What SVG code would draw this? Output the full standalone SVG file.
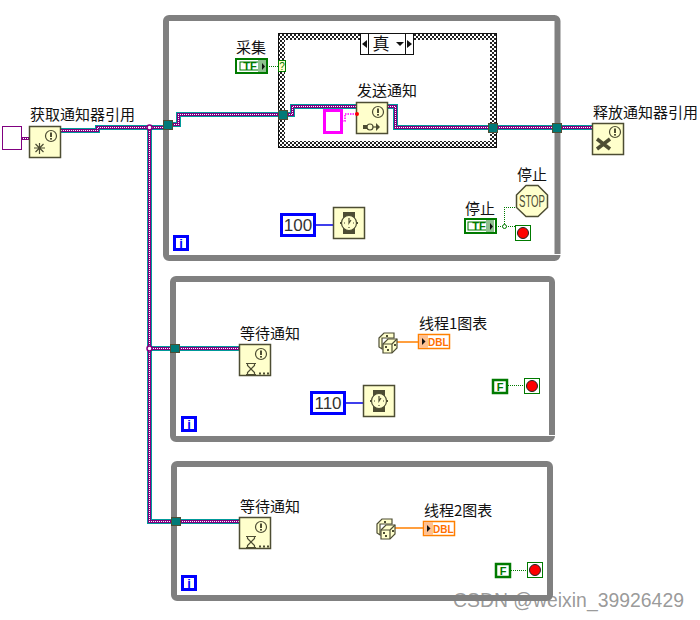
<svg xmlns="http://www.w3.org/2000/svg" width="700" height="620" viewBox="0 0 700 620">
<style>
text{font-family:"Noto Sans CJK SC","Liberation Sans",sans-serif;fill:#111}
.lb{font-size:15px}
.num{font-family:"Liberation Sans",sans-serif;font-size:17px;fill:#333}
.loop{fill:none;stroke:#808080;stroke-width:6}
.notch{fill:none;stroke:#fff;stroke-width:1}
.tun{fill:#007a78;stroke:#4d4d33;stroke-width:1}
.n{fill:#ffffcc;stroke:#4d4d33;stroke-width:1.5}
.ic{fill:none;stroke:#4d4d33;stroke-width:1.2}
.icf{fill:#4d4d33}
.w1{fill:none;stroke:#009a9a;stroke-width:5;shape-rendering:crispEdges}
.w2{fill:none;stroke:#800080;stroke-width:3;shape-rendering:crispEdges}
.w3{fill:none;stroke:#fff;stroke-width:1;stroke-dasharray:1 1;shape-rendering:crispEdges}
.wg{fill:none;stroke:#007a00;stroke-width:1;stroke-dasharray:1 1;shape-rendering:crispEdges}
.wb{fill:none;stroke:#0000e6;stroke-width:1.5}
.wo{fill:none;stroke:#ff8000;stroke-width:1.3}
.blue{fill:#fff;stroke:#0000ff;stroke-width:3}
.gb{fill:#fff;stroke:#007a00;stroke-width:2.5}
.o{fill:#fff;stroke:#ff8000;stroke-width:1.5}
.i{font-family:"Liberation Sans",sans-serif;font-size:13px;font-weight:bold;fill:#0000ff}
.tf{font-family:"Liberation Sans",sans-serif;font-size:11px;font-weight:bold;fill:#007a00}
.dbl{font-family:"Liberation Sans",sans-serif;font-size:10px;font-weight:bold;fill:#ff7000}
</style>
<defs>
<pattern id="chk" width="4" height="4" patternUnits="userSpaceOnUse">
<rect width="4" height="4" fill="#fff"/><rect width="2" height="2" fill="#222"/><rect x="2" y="2" width="2" height="2" fill="#222"/>
</pattern>
<g id="warn"><circle cx="0" cy="0" r="5.5" class="ic"/><rect x="-1" y="-3.500" width="2" height="4.500" class="icf"/><rect x="-1" y="2" width="2" height="1.600" class="icf"/></g>
<g id="stopT"><rect x="0.500" y="0.500" width="15" height="15" fill="#fff" stroke="#007a00"/><circle cx="8" cy="8" r="5.500" fill="#ff0000" stroke="#222" stroke-width="1"/></g>
<g id="watch"><rect x="-6" y="-11" width="12" height="22" class="icf"/><circle cx="0" cy="0" r="7.500" fill="#ffffcc" stroke="#4d4d33" stroke-width="1.200"/><path d="M0-5V0L2-3M-5 0h1M4 0h1M0 4v1" class="ic" stroke-width="1"/><rect x="7" y="-1" width="2" height="2" class="icf"/><rect x="-9" y="-1" width="2" height="2" class="icf"/></g>
<g id="hour"><path d="M-5 0h10M-5 11h10M-3.500 0v2L3.500 9v2M3.500 0v2L-3.500 9v2" class="ic"/><rect x="8" y="9" width="2" height="2" class="icf"/><rect x="12" y="9" width="2" height="2" class="icf"/><rect x="16" y="9" width="2" height="2" class="icf"/></g>
<g id="dice"><path d="M1 6L6 1H16V6H4V17L1 15Z" fill="#ffffcc" stroke="#4d4d33" stroke-width="1.200"/><path d="M5 12L10 7H19V16L14 21H5Z" fill="#ffffcc" stroke="#4d4d33" stroke-width="1.200"/><path d="M5 12H14V21M14 12L19 7" fill="none" stroke="#4d4d33" stroke-width="1.200"/><rect x="7" y="14" width="2" height="2" class="icf"/><rect x="9" y="17" width="2" height="2" class="icf"/><rect x="16" y="12" width="2" height="2" class="icf"/><rect x="8" y="3" width="2" height="2" class="icf"/></g>
</defs>
<rect width="700" height="620" fill="#fff"/>

<g id="loop1"><rect x="166" y="18" width="391.500" height="240" rx="3" class="loop"/><path d="M554 254.500H561" class="notch"/><rect x="174.500" y="236.500" width="13" height="13" class="blue" stroke-width="2.500"/><text x="181" y="248" text-anchor="middle" class="i">i</text></g>
<g id="loop2"><rect x="173" y="279" width="379" height="160" rx="3" class="loop"/><path d="M548 435.500H556" class="notch"/><rect x="182.500" y="417.500" width="13" height="13" class="blue" stroke-width="2.500"/><text x="189" y="429" text-anchor="middle" class="i">i</text></g>
<g id="loop3"><rect x="174" y="464" width="376" height="134" rx="3" class="loop"/><rect x="182.500" y="576.500" width="13" height="13" class="blue" stroke-width="2.500"/><text x="189" y="588" text-anchor="middle" class="i">i</text></g>

<g id="case"><rect x="278.500" y="33.500" width="218" height="114" fill="url(#chk)" stroke="#111" stroke-width="1"/><rect x="285" y="40" width="205" height="101" fill="#fff"/>
<rect x="360.500" y="33.500" width="53" height="21" fill="#fff" stroke="#111"/><path d="M368.500 34V54M405.500 34V54" stroke="#111" fill="none"/><path d="M367 40v8l-5-4zM407 40v8l5-4zM396 42h8l-4 4z" fill="#111"/>
<text x="381" y="50" text-anchor="middle" font-size="17">真</text></g>

<g id="connectors">
<path d="M21 138.500H29" fill="none" stroke="#800080" stroke-width="3" shape-rendering="crispEdges"/><path d="M21 138.500H29" class="w3"/>
<path d="M61 130.500H97.500V127.500H163M172 124.500H178.500V114.500H278M287 114.500H292.500V106.500H357M388 106.500H395.500V127.500H488M497 127.500H552M561 127.500H592M149.500 127V521.500H171M180 521.500H239M149 348.500H170M179 348.500H239" class="w1"/>
<path d="M61 130.500H97.500V127.500H163M172 124.500H178.500V114.500H278M287 114.500H292.500V106.500H357M388 106.500H395.500V127.500H488M497 127.500H552M561 127.500H592M149.500 127V521.500H171M180 521.500H239M149 348.500H170M179 348.500H239" class="w2"/>
<path d="M61 130.500H97.500V127.500H163M172 124.500H178.500V114.500H278M287 114.500H292.500V106.500H357M388 106.500H395.500V127.500H488M497 127.500H552M561 127.500H592M149.500 127V521.500H171M180 521.500H239M149 348.500H170M179 348.500H239" class="w3"/>
<circle cx="149.500" cy="127.500" r="2.500" fill="#fff" stroke="#800080" stroke-width="1.500"/><circle cx="149.500" cy="348.500" r="2.500" fill="#fff" stroke="#800080" stroke-width="1.500"/>
<path d="M342 121H345V114H357" fill="none" stroke="#ff00ff" stroke-width="1.500" stroke-dasharray="1.500 1"/>
<path d="M267 66.500H278M496 226.500H515M504.500 226V207.500H516M508 385.500H524M511 570.500H527" class="wg"/>
<circle cx="504.500" cy="226.500" r="2" fill="#fff" stroke="#007a00"/>
<path d="M316 225H333M345 403H363" class="wb"/>
<path d="M397 342H418M395 528H423" class="wo"/>
<rect x="163.500" y="120.500" width="9" height="9" class="tun"/><rect x="278.500" y="110.500" width="9" height="9" class="tun"/><rect x="488.500" y="123.500" width="9" height="9" class="tun"/><rect x="552.500" y="123.500" width="9" height="9" class="tun"/><rect x="170.500" y="344.500" width="9" height="8" class="tun"/><rect x="171.500" y="517.500" width="9" height="8" class="tun"/>
</g>

<g id="obtainRef"><rect x="2.500" y="126.500" width="19" height="23" fill="#fff" stroke="#800080"/><rect x="29.500" y="126.500" width="31" height="31" class="n"/><use href="#warn" x="51" y="136"/><path d="M34 148H45M39.500 143V154M35.500 144L43.500 152M43.500 144L35.500 152" class="ic" stroke-width="0.900"/><text x="30" y="120" class="lb">获取通知器引用</text></g>
<g id="collect"><text x="236" y="53" class="lb">采集</text><rect x="236" y="59" width="31" height="14" fill="#fff" stroke="#007a00" stroke-width="2"/><rect x="240" y="62" width="25" height="8" fill="#fff" stroke="#007a00"/><rect x="258" y="60" width="8" height="12" fill="#8fc08f"/><text x="250" y="70" class="tf" text-anchor="middle">TF</text><path d="M262 63v7l3-3.500z" fill="#111"/></g>
<g id="selector"><rect x="278.500" y="60.500" width="7" height="11" fill="#ffffcc" stroke="#007a00"/><text x="282" y="70" text-anchor="middle" font-size="10" style="fill:#007a00;font-family:'Liberation Sans',sans-serif">?</text></g>
<g id="sendNotify"><text x="357" y="96" class="lb">发送通知</text><rect x="324.500" y="110.500" width="17" height="22" fill="#fff" stroke="#ff00ff" stroke-width="3"/><rect x="356.500" y="102.500" width="31" height="31" class="n"/><use href="#warn" x="378" y="112"/><rect x="363" y="125" width="4" height="4" class="icf"/><circle cx="370" cy="127" r="3" class="ic"/><path d="M373 127h4" class="ic"/><path d="M376 123l4 4-4 4z" class="icf"/><circle cx="357" cy="114" r="2" fill="#ff0000"/></g>
<g id="releaseRef"><text x="593" y="118" class="lb">释放通知器引用</text><rect x="592.500" y="123.500" width="31" height="31" class="n"/><use href="#warn" x="615" y="132"/><path d="M597 139L610 149M610 139L597 149" fill="none" stroke="#4d4d33" stroke-width="3.500"/></g>
<g id="stopNode"><text x="517" y="180" class="lb">停止</text><path d="M526 185.500H538L547.500 195V207.500L538 216.500H526L516.500 207.500V195Z" fill="#ffffcc" stroke="#4d4d33" stroke-width="1.500"/><text x="532" y="207" text-anchor="middle" font-size="16" textLength="26" lengthAdjust="spacingAndGlyphs" style="font-family:'Liberation Sans',sans-serif;fill:#4d4d33">STOP</text></g>
<g id="stopCtl"><text x="465" y="214" class="lb">停止</text><rect x="465" y="219" width="31" height="14" fill="#fff" stroke="#007a00" stroke-width="2"/><rect x="468" y="222" width="25" height="8" fill="#fff" stroke="#007a00"/><rect x="486" y="220" width="8" height="12" fill="#8fc08f"/><text x="479" y="230" class="tf" text-anchor="middle">TF</text><path d="M490 223v7l3-3.500z" fill="#111"/></g>
<g id="stopTerm1"><use href="#stopT" x="515" y="225"/></g>
<g id="wait100"><rect x="281.500" y="214.500" width="33" height="21" class="blue"/><text x="298" y="231" text-anchor="middle" class="num">100</text><rect x="333.500" y="207.500" width="31" height="31" class="n"/><use href="#watch" x="349" y="223"/></g>

<g id="wait1"><text x="240" y="339" class="lb">等待通知</text><rect x="239.500" y="344.500" width="31" height="31" class="n"/><use href="#warn" x="261" y="354"/><use href="#hour" x="251" y="363.500"/></g>
<g id="rand1"><use href="#dice" x="378" y="332"/></g>
<g id="chart1"><text x="419" y="329" class="lb">线程1图表</text><rect x="418.500" y="334.500" width="31" height="14" class="o"/><rect x="419" y="335" width="9" height="13" fill="#ffc090"/><text x="428" y="345.500" class="dbl">DBL</text><path d="M422 338v7l3.500-3.500z" fill="#111"/></g>
<g id="f1"><rect x="493" y="380" width="14" height="13" class="gb"/><text x="500" y="390.500" class="tf" text-anchor="middle">F</text></g>
<g id="stopTerm2"><use href="#stopT" x="524" y="378"/></g>
<g id="wait110"><rect x="311.500" y="392.500" width="33" height="21" class="blue"/><text x="328" y="409" text-anchor="middle" class="num">110</text><rect x="363.500" y="385.500" width="31" height="31" class="n"/><use href="#watch" x="379" y="401"/></g>

<g id="wait2"><text x="240" y="512" class="lb">等待通知</text><rect x="239.500" y="517.500" width="31" height="31" class="n"/><use href="#warn" x="261" y="527"/><use href="#hour" x="251" y="536.500"/></g>
<g id="rand2"><use href="#dice" x="376" y="518"/></g>
<g id="chart2"><text x="424" y="516" class="lb">线程2图表</text><rect x="423.500" y="521.500" width="31" height="14" class="o"/><rect x="424" y="522" width="9" height="13" fill="#ffc090"/><text x="433" y="532.500" class="dbl">DBL</text><path d="M427 525v7l3.500-3.500z" fill="#111"/></g>
<g id="f2"><rect x="496" y="564" width="14" height="13" class="gb"/><text x="503" y="574.500" class="tf" text-anchor="middle">F</text></g>
<g id="stopTerm3"><use href="#stopT" x="527" y="562"/></g>

<text x="453" y="607" font-size="19.400" style="font-family:'Liberation Sans',sans-serif;fill:#808080" fill-opacity="0.8">CSDN @weixin_39926429</text>
</svg>
